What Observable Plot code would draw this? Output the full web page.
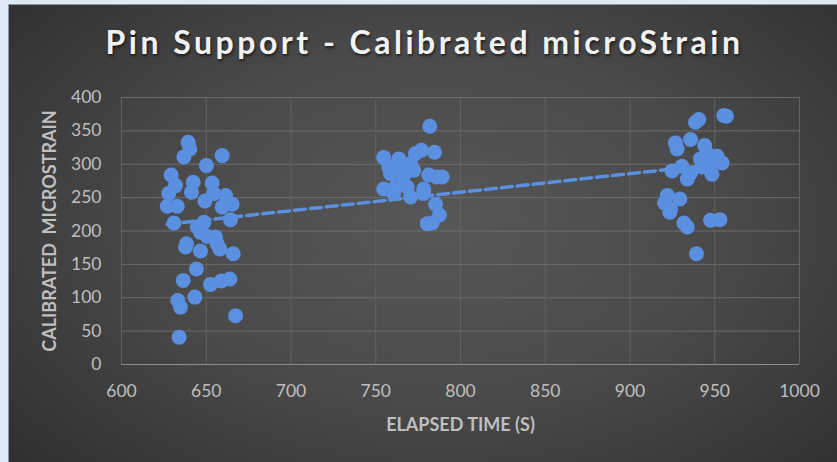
<!DOCTYPE html>
<html>
<head>
<meta charset="utf-8">
<script src="https://cdn.jsdelivr.net/npm/d3@7"></script>
<script src="https://cdn.jsdelivr.net/npm/@observablehq/plot@0.6"></script>
<style>
  html, body { margin: 0; padding: 0; background: #dde9f5; }
  #wrap { position: relative; width: 837px; height: 462px; background: #dde9f5; overflow: hidden; }
  #panel { position: absolute; left: 8px; top: 4px; width: 829px; height: 458px;
    background: radial-gradient(ellipse 75% 85% at 52% 48%, #575757 0%, #4a4a4a 45%, #2b2b2b 100%);
    border-left: 1px solid #8a96a3; border-top: 1px solid #8a96a3; box-sizing: border-box; }
  #title { position: absolute; left: 10px; width: 829px; top: 22px; text-align: center;
    font-family: Lato, "Open Sans", sans-serif; font-weight: 700; font-size: 32px; letter-spacing: 3.5px;
    color: #f2f2f2; text-shadow: 1px 2px 3px rgba(0,0,0,0.6); }
  #chart { position: absolute; left: 0; top: 0; }
</style>
</head>
<body>
<div id="wrap">
  <div id="panel"></div>
  <div id="chart"></div>
  <div id="title">Pin Support - Calibrated microStrain</div>
</div>
<script>
// Run 1 (around 630-670 s)
const run1Time = [639.3, 640.3, 636.8, 659.4, 650.1, 629.3, 631.9, 642.3, 641.3, 653.5, 627.9, 654.4, 649.2, 661.4, 665.3, 627.0, 632.9, 659.4, 664.3, 630.9, 648.6, 644.7, 646.6, 650.6, 655.5, 656.5, 658.0, 638.3, 637.8, 646.6, 665.9, 644.2, 636.4, 652.5, 658.8, 663.9, 643.3, 633.2, 634.8, 667.3, 634.0];
const run1Strain = [333, 323, 311, 313, 298, 284, 268, 273, 258, 272, 256, 256, 245, 253, 240, 237, 237, 236, 217, 212, 213, 206, 198, 192, 191, 181, 173, 181, 176, 170, 166, 143, 126, 120, 125, 128, 101, 96, 86, 73, 41];
// Run 2 (around 755-790 s)
const run2Time = [781.9, 754.7, 763.6, 773.5, 777.0, 784.7, 757.7, 764.6, 770.5, 758.7, 766.5, 772.4, 781.3, 789.2, 786.0, 765.5, 754.7, 760.6, 768.5, 778.3, 770.5, 778.3, 785.3, 787.6, 780.4, 783.3, 761.7];
const run2Strain = [357, 310, 308, 316, 321, 318, 295, 296, 301, 286, 283, 291, 284, 281, 281, 271, 263, 256, 266, 263, 251, 256, 240, 224, 211, 212, 266];
// Run 3 (around 920-957 s)
const run3Time = [938.6, 940.6, 955.3, 956.9, 926.8, 927.8, 935.7, 944.0, 945.5, 951.4, 941.6, 954.3, 947.4, 942.5, 930.7, 924.8, 935.7, 948.4, 933.8, 922.0, 929.4, 920.4, 923.9, 923.5, 931.8, 933.8, 947.5, 953.0, 939.2];
const run3Strain = [363, 367, 373, 372, 332, 323, 337, 328, 316, 312, 308, 302, 300, 296, 297, 290, 287, 285, 278, 253, 248, 242, 233, 228, 212, 206, 216, 217, 166];

const xTicks = [600, 650, 700, 750, 800, 850, 900, 950, 1000];
const yTicks = [0, 50, 100, 150, 200, 250, 300, 350, 400];
const xTitle = "ELAPSED TIME (S)";
const yTitle = "CALIBRATED\u00a0 MICROSTRAIN";

const data = [
  ...run1Time.map((t, i) => ({time: t, strain: run1Strain[i]})),
  ...run2Time.map((t, i) => ({time: t, strain: run2Strain[i]})),
  ...run3Time.map((t, i) => ({time: t, strain: run3Strain[i]}))
];

const blue = "#5b8fe0";
const chart = Plot.plot({
  width: 837,
  height: 462,
  marginLeft: 121,
  marginRight: 38,
  marginTop: 97,
  marginBottom: 98,
  style: {background: "transparent", color: "#bfbfbf", fontFamily: "Lato, 'Open Sans', sans-serif", fontSize: "17.5px"},
  x: {domain: [600, 1000]},
  y: {domain: [0, 400]},
  marks: [
    Plot.gridY(yTicks, {stroke: "#6c6c6c", strokeOpacity: 1}),
    Plot.gridX(xTicks, {stroke: "#626262", strokeOpacity: 1}),
    Plot.ruleY([0], {stroke: "#8c8c8c", strokeWidth: 1.2}),
    Plot.axisY(yTicks, {tickSize: 0, tickPadding: 20, label: null, tickFormat: d3.format("d"), fill: "#bfbfbf", fontSize: 17.5}),
    Plot.axisX(xTicks, {tickSize: 0, tickPadding: 20, label: null, tickFormat: d3.format("d"), fill: "#bfbfbf", fontSize: 17.5}),
    Plot.linearRegressionY(data, {x: "time", y: "strain", ci: 0, stroke: blue, strokeWidth: 3.5, strokeDasharray: "11,5"}),
    Plot.dot(data, {x: "time", y: "strain", r: 7.5, fill: blue, stroke: "none", ariaLabel: "points"}),
    Plot.text([xTitle], {frameAnchor: "bottom", lineAnchor: "middle", dy: 61, fontWeight: "bold", fontSize: 18, fill: "#bfbfbf"}),
    Plot.text([yTitle], {frameAnchor: "left", textAnchor: "middle", lineAnchor: "middle", dx: -71, rotate: -90, fontWeight: "bold", fontSize: 18, letterSpacing: 0.3, fill: "#bfbfbf"})
  ]
});
d3.select(chart).selectAll("g[aria-label=points]").style("filter", "drop-shadow(1px 2px 2px rgba(0,0,0,0.55))");
document.getElementById("chart").appendChild(chart);
</script>
</body>
</html>
